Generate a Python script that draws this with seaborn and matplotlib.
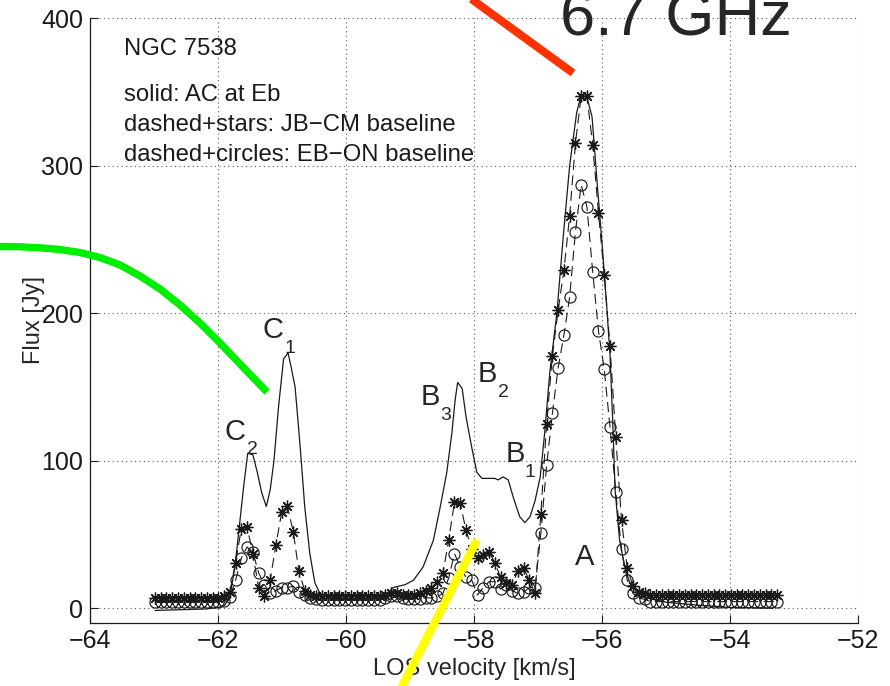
import matplotlib
matplotlib.use("Agg")
import matplotlib.pyplot as plt
from matplotlib.lines import Line2D
import pandas as pd
import seaborn as sns

# ---------------- data ----------------
velocity = [
    -62.99, -62.90, -62.81, -62.72, -62.63, -62.54, -62.45, -62.36, -62.27, -62.18,
    -62.09, -62.00, -61.91, -61.82, -61.73, -61.64, -61.55, -61.46, -61.37, -61.28,
    -61.19, -61.10, -61.01, -60.92, -60.83, -60.74, -60.65, -60.56, -60.47, -60.38,
    -60.29, -60.20, -60.11, -60.02, -59.93, -59.84, -59.75, -59.66, -59.57, -59.48,
    -59.39, -59.30, -59.21, -59.12, -59.03, -58.94, -58.85, -58.76, -58.67, -58.58,
    -58.49, -58.40, -58.31, -58.22, -58.13, -58.04, -57.95, -57.86, -57.77, -57.68,
    -57.59, -57.50, -57.41, -57.32, -57.23, -57.14, -57.05, -56.96, -56.87, -56.78,
    -56.69, -56.60, -56.51, -56.42, -56.33, -56.24, -56.15, -56.06, -55.97, -55.88,
    -55.79, -55.70, -55.61, -55.52, -55.43, -55.34, -55.25, -55.16, -55.07, -54.98,
    -54.89, -54.80, -54.71, -54.62, -54.53, -54.44, -54.35, -54.26, -54.17, -54.08,
    -53.99, -53.90, -53.81, -53.72, -53.63, -53.54, -53.45, -53.36, -53.27,
]

# dashed + stars : JB-CM baseline
stars_flux = [
    7, 7, 7, 7, 7, 7, 7, 7, 7, 7,
    7, 7, 8, 11, 31, 54, 55, 37, 14, 8,
    19, 43, 65, 69, 52, 25, 12, 9, 8, 8,
    8, 8, 8, 8, 8, 8, 8, 8, 8, 8,
    9, 10, 10, 9, 9, 9, 10, 12, 14, 18,
    24, 46, 72, 71, 53, 40, 34, 36, 38, 31,
    21, 17, 16, 25, 27, 19, 10, 64, 125, 171,
    202, 229, 266, 315, 347, 347, 314, 268, 226, 178,
    116, 60, 27, 15, 11, 10, 9, 9, 9, 9,
    9, 9, 9, 9, 9, 9, 9, 9, 9, 9,
    9, 9, 9, 9, 9, 9, 9, 9, 9,
]

# dashed + circles : EB-ON baseline
circles_flux = [
    4.5, 4.5, 4.5, 4.5, 4.5, 4.5, 4.5, 4.5, 4.5, 4.5,
    4.5, 4.5, 5, 7.5, 19, 34, 41.5, 38, 24, 16,
    10, 12, 14, 14, 15, 11, 9, 7, 6, 5.5,
    5.5, 5.5, 5.5, 5.5, 5.5, 5.5, 5.5, 5.5, 5.5, 5.5,
    7, 8, 8, 7, 6.5, 6.5, 6.5, 7, 7, 8,
    10, 20.5, 37, 28, 21, 19, 9, 14, 18, 18,
    13, 16, 12, 10, 11, 14, 14, 51, 97, 132,
    163, 185, 211, 255, 287, 272, 228, 188, 162, 123,
    79, 40, 19, 10, 7, 6, 4.5, 4.5, 4.5, 4.5,
    4.5, 4.5, 4.5, 4.5, 4.5, 4.5, 4.5, 4.5, 4.5, 4.5,
    4.5, 4.5, 4.5, 4.5, 4.5, 4.5, 4.5, 4.5, 4.5,
]

# solid : AC at Eb
solid_v = [
    -62.99, -62.60, -62.20, -62.00, -61.90, -61.82, -61.74, -61.66, -61.60, -61.54,
    -61.46, -61.39, -61.32, -61.25, -61.19, -61.13, -61.06, -60.98, -60.91, -60.86,
    -60.80, -60.72, -60.65, -60.57, -60.49, -60.41, -60.26, -60.00, -59.70, -59.48,
    -59.35, -59.27, -59.08, -58.95, -58.80, -58.64, -58.54, -58.43, -58.35, -58.30,
    -58.26, -58.19, -58.13, -58.04, -57.96, -57.88, -57.68, -57.63, -57.55, -57.47,
    -57.39, -57.29, -57.21, -57.13, -57.05, -56.97, -56.90, -56.82, -56.71, -56.61,
    -56.51, -56.40, -56.33, -56.25, -56.16, -56.08, -56.00, -55.93, -55.88, -55.84,
    -55.80, -55.73, -55.65, -55.57, -55.41, -54.99, -54.48, -54.00, -53.33,
]
solid_flux = [
    -1.5, -1.0, -0.5, 0.5, 2, 8, 28, 60, 84, 105,
    104, 92, 78, 69, 80, 100, 136, 169, 173, 163,
    150, 109, 69, 37, 17, 10, 7, 6, 6, 8,
    10, 14, 16, 19, 28, 46, 67, 92, 119, 141,
    153, 149, 130, 109, 92, 88, 88, 87, 89, 87,
    75, 62, 58, 62, 73, 89, 119, 160, 200, 252,
    300, 336, 348, 348, 333, 288, 245, 204, 172, 130,
    80, 46, 28, 17, 8, 4, 2, 0.5, 0,
]

x_ticks = [-64, -62, -60, -58, -56, -54, -52]
y_ticks = [0, 100, 200, 300, 400]

info_lines = ["NGC 7538", "solid: AC at Eb",
              "dashed+stars: JB\u2212CM baseline",
              "dashed+circles: EB\u2212ON baseline"]
peak_letters = ["C", "C", "B", "B", "B", "A"]
peak_subs = ["1", "2", "3", "2", "1", ""]

# ---------------- figure ----------------
sns.set_theme(style="white")
plt.rcParams["font.family"] = ["Liberation Sans", "DejaVu Sans"]
plt.rcParams["axes.unicode_minus"] = True

W, H = 890, 686
fig = plt.figure(figsize=(W / 100, H / 100), dpi=100)
ax = fig.add_axes([90.3 / W, 1 - 623 / H, 768 / W, 605 / H])

df_solid = pd.DataFrame({"v": solid_v, "flux": solid_flux})
df_ch = pd.DataFrame({"v": velocity, "stars": stars_flux, "circles": circles_flux})

sns.lineplot(data=df_solid, x="v", y="flux", ax=ax, color="k", lw=0.9,
             sort=False, zorder=3)
sns.lineplot(data=df_ch, x="v", y="stars", ax=ax, color="k", lw=0.8,
             linestyle=(0, (9, 5)), marker=(8, 2, 0), markersize=8.5,
             markeredgecolor="k", markerfacecolor="none", markeredgewidth=0.95,
             sort=False, zorder=4)
sns.lineplot(data=df_ch, x="v", y="circles", ax=ax, color="k", lw=0.8,
             linestyle=(0, (9, 5)), marker="o", markersize=8,
             markeredgecolor="k", markerfacecolor="none", markeredgewidth=0.85,
             sort=False, zorder=4)

ax.set_xlim(-64, -52)
ax.set_ylim(-10, 400)
ax.set_xticks(x_ticks)
ax.set_yticks(y_ticks)
ax.grid(True, linestyle=(0, (1, 3)), color="#555555", lw=0.8)
ax.set_axisbelow(True)
sns.despine(ax=ax)
for s in ("left", "bottom"):
    ax.spines[s].set_color("k")
    ax.spines[s].set_linewidth(0.9)
ax.tick_params(axis="both", direction="in", length=6, width=0.8, colors="k",
               labelsize=18, top=False, right=False, left=True, bottom=True)
ax.tick_params(axis="x", pad=4)
ax.tick_params(axis="y", pad=5)

ax.set_xlabel("LOS velocity [km/s]", fontsize=17)
ax.set_ylabel("Flux [Jy]", fontsize=17)
ax.xaxis.set_label_coords(0.5, -0.058)
ax.yaxis.set_label_coords(-0.059, 0.5)

# info text block
info_y = [375, 344, 323.5, 303]
for t, yv in zip(info_lines, info_y):
    ax.text(-63.48, yv, t, fontsize=17.2, va="baseline", ha="left", color="k")

# peak labels with subscripts
letter_xy = [(-61.153, 183.3), (-61.739, 114.1), (-58.692, 137.8),
             (-57.802, 153.4), (-57.364, 99.2), (-56.278, 29.4)]
sub_xy = [(-60.888, 173.1), (-61.466, 104.6), (-58.442, 127.7),
          (-57.552, 143.3), (-57.130, 89.0), None]
for L, S, lxy, sxy in zip(peak_letters, peak_subs, letter_xy, sub_xy):
    ax.text(lxy[0], lxy[1], L, fontsize=21, ha="center", va="baseline", zorder=6)
    if S and sxy is not None:
        ax.text(sxy[0], sxy[1], S, fontsize=14, ha="center", va="baseline", zorder=6)

# big title text (partly cut by the top edge, as in the reference)
fig.text(560 / W, 1 - 35 / H, "6.7 GHz", fontsize=45.5, ha="left", va="baseline")

# coloured hand-drawn strokes (pixel coordinates of the overlay)
def px(points):
    return [p[0] / W for p in points], [1 - p[1] / H for p in points]

red_px = [(459, -10), (573, 73)]
green_px = [(-20, 246.4), (0, 246.5), (20, 246.8), (40, 247.8), (60, 249.5),
            (80, 252.5), (100, 257.5), (120, 265), (140, 276), (160, 289),
            (180, 305), (200, 323), (220, 343), (240, 364), (267, 392)]
yellow_px = [(477, 540), (397, 696)]
for pts, col, lw in ((red_px, "#FF3300", 5.8), (green_px, "#00EE00", 5.3),
                     (yellow_px, "#FFFF00", 6.0)):
    xs, ys = px(pts)
    fig.add_artist(Line2D(xs, ys, transform=fig.transFigure, color=col, lw=lw,
                          solid_capstyle="butt", solid_joinstyle="round", zorder=10))

fig.savefig("out.png", dpi=100)
